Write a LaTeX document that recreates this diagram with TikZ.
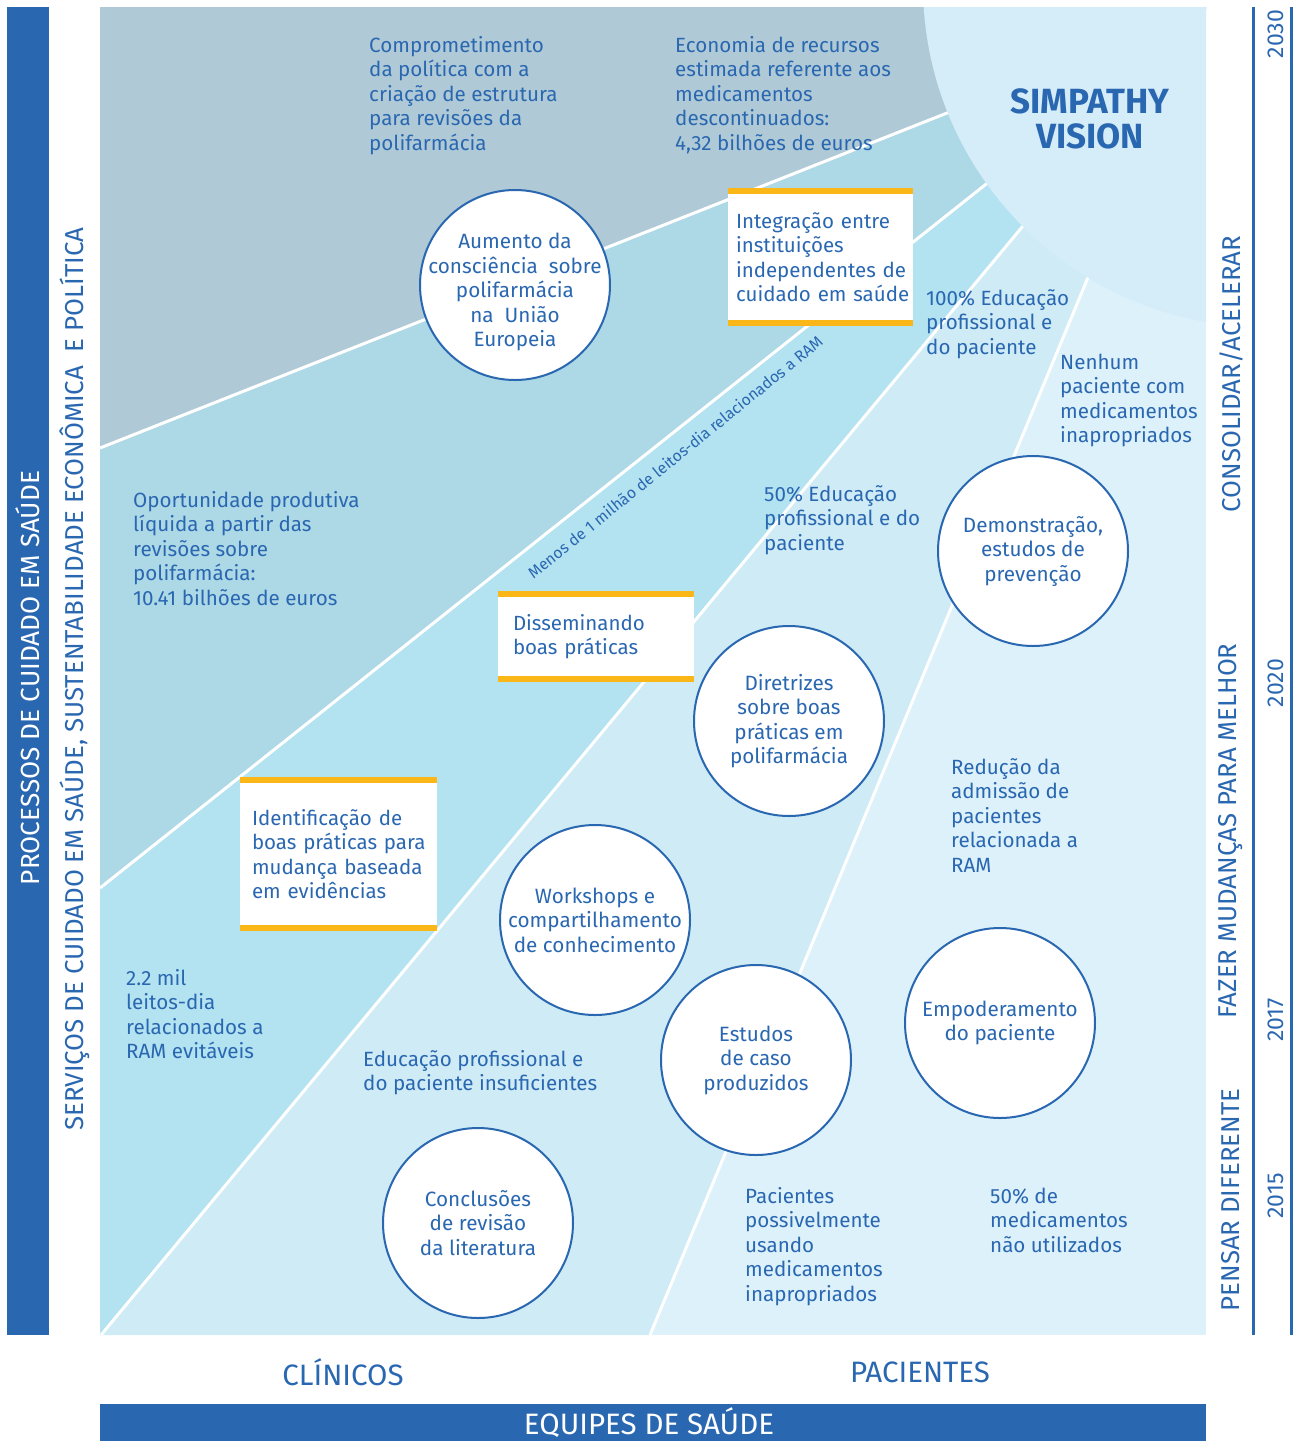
\documentclass[tikz,border=0pt]{standalone}
\usepackage{fontspec}
\setmainfont{Fira Sans}
\definecolor{dblue}{HTML}{2A67B1}
\definecolor{topgrey}{HTML}{AFCAD6}
\definecolor{bandb}{HTML}{ADD8E5}
\definecolor{bandc}{HTML}{B3E2F0}
\definecolor{bandd}{HTML}{CEEBF6}
\definecolor{bande}{HTML}{DDF1FA}
\definecolor{visionc}{HTML}{D5ECF9}
\definecolor{ybarc}{HTML}{FBB617}
\begin{document}
\begin{tikzpicture}[x=1pt,y=-1pt,
  bodytxt/.style={font=\fontsize{20.6}{24.5}\selectfont, text=dblue, align=left, inner sep=0pt, anchor=base west},
  bubble/.style={circle, draw=dblue, line width=2pt, fill=white, minimum size=190pt, inner sep=-30pt, align=center, text=dblue, font=\fontsize{20.7}{24.5}\selectfont},
  ybox/.style={rectangle, fill=white, inner ysep=0pt, align=left, text=dblue, font=\fontsize{20.5}{24.5}\selectfont},
  yline/.style={draw=ybarc, line width=6pt},
  wline/.style={draw=white, line width=3pt},
  vlabel/.style={rotate=90, inner sep=0pt, text=dblue},
]
\useasboundingbox (0,0) rectangle (1294,1441);
% left bar
\fill[dblue] (7,7) rectangle (49,1335);
% main panel
\begin{scope}
\clip (100,7) rectangle (1206,1335);
\fill[bande] (100,7) rectangle (1206,1335);
\fill[bandd] (100,1335) -- (650,1335) -- (1200,7) -- (100,7) -- cycle;
\fill[bandc] (100,1335) -- (101,1335) -- (1205,7) -- (100,7) -- cycle;
\fill[bandb] (100,888) -- (1206,9.4) -- (1206,7) -- (100,7) -- cycle;
\fill[topgrey] (100,448) -- (1206,10.6) -- (1206,7) -- (100,7) -- cycle;
\draw[wline] (100,448) -- (1206,10.6);
\draw[wline] (100,888) -- (1206,9.4);
\draw[wline] (101,1335) -- (1205,7);
\draw[wline] (650,1335) -- (1200,7);
\fill[visionc] (1265,-15) circle[radius=342];
\end{scope}
% right timeline lines
\draw[dblue, line width=3pt] (1253,7) -- (1253,1335);
\draw[dblue, line width=3pt] (1291,7) -- (1291,1335);
% bottom bar
\fill[dblue] (100,1404) rectangle (1206,1441);

% vision title
\node[font=\fontsize{35}{35}\selectfont\bfseries, text=dblue, align=center] (vision) at (1090,119) {SIMPATHY\\VISION};

% vertical labels
\node[vlabel, text=white, font=\fontsize{26.2}{28}\selectfont] (proc) at (28,678) {PROCESSOS DE CUIDADO EM SAÚDE};
\node[vlabel, font=\fontsize{25.9}{28}\selectfont] (serv) at (75,679) {SERVIÇOS DE CUIDADO EM SAÚDE, SUSTENTABILIDADE ECONÔMICA\ \ E POLÍTICA};
\node[vlabel, font=\fontsize{25.8}{28}\selectfont] (consol) at (1231,374) {CONSOLIDAR/ACELERAR};
\node[vlabel, font=\fontsize{25.8}{28}\selectfont] (fazer) at (1231,831) {FAZER MUDANÇAS PARA MELHOR};
\node[vlabel, font=\fontsize{25.8}{28}\selectfont] (pensar) at (1231,1200) {PENSAR DIFERENTE};
\node[vlabel, font=\fontsize{23}{25}\selectfont] (y2030) at (1276,34) {2030};
\node[vlabel, font=\fontsize{23}{25}\selectfont] (y2020) at (1276,683) {2020};
\node[vlabel, font=\fontsize{23}{25}\selectfont] (y2017) at (1276,1020) {2017};
\node[vlabel, font=\fontsize{23}{25}\selectfont] (y2015) at (1276,1196) {2015};

% bottom labels
\node[font=\fontsize{29.5}{31}\selectfont, text=dblue] (clin) at (343,1372) {CLÍNICOS};
\node[font=\fontsize{29.5}{31}\selectfont, text=dblue] (pac) at (920,1372) {PACIENTES};
\node[font=\fontsize{29.5}{31}\selectfont, text=white] (equipes) at (649,1423) {EQUIPES DE SAÚDE};

% text labels (anchored at baseline of last line)
\node[bodytxt] (compr) at (369,150) {Comprometimento\\da política com a\\criação de estrutura\\para revisões da\\polifarmácia};
\node[bodytxt] (econ) at (675,150) {Economia de recursos\\estimada referente aos\\medicamentos\\descontinuados:\\4,32 bilhões de euros};
\node[bodytxt] (oport) at (133,605) {Oportunidade produtiva\\líquida a partir das\\revisões sobre\\polifarmácia:\\10.41 bilhões de euros};
\node[bodytxt] (leitos) at (126,1058.5) {2.2 mil\\leitos-dia\\relacionados a\\RAM evitáveis};
\node[bodytxt] (eduins) at (363,1090.5) {Educação profissional e\\do paciente insuficientes};
\node[bodytxt] (edu100) at (926,354) {100\% Educação\\profissional e\\do paciente};
\node[bodytxt] (nenhum) at (1060,442.5) {Nenhum\\paciente com\\medicamentos\\inapropriados};
\node[bodytxt] (edu50) at (764,550) {50\% Educação\\profissional e do\\paciente};
\node[bodytxt] (reduc) at (951,872) {Redução da\\admissão de\\pacientes\\relacionada a\\RAM};
\node[bodytxt] (pacposs) at (745,1301) {Pacientes\\possivelmente\\usando\\medicamentos\\inapropriados};
\node[bodytxt] (med50) at (990,1252) {50\% de\\medicamentos\\não utilizados};
\node[font=\fontsize{15.8}{17}\selectfont, text=dblue, rotate=39, inner sep=0pt] (menos) at (675,457) {Menos de 1 milhão de leitos-dia relacionados a RAM};

% bubbles
\node[bubble] (aumento) at (515,285) {\rule{0pt}{30pt}Aumento da\\consciência\ \ sobre\\polifarmácia\\na\ \ União\\Europeia};
\node[bubble] (demo) at (1033,551) {Demonstração,\\estudos de\\prevenção};
\node[bubble] (diret) at (789,721) {Diretrizes\\sobre boas\\práticas em\\polifarmácia};
\node[bubble] (work) at (595,920) {Workshops e\\compartilhamento\\de conhecimento};
\node[bubble] (estud) at (756,1060) {Estudos\\de caso\\produzidos};
\node[bubble] (empod) at (1000,1023) {Empoderamento\\do paciente};
\node[bubble] (concl) at (478,1223) {Conclusões\\de revisão\\da literatura};

% yellow-barred boxes
\node[ybox, minimum width=185pt, minimum height=138pt, text width=169pt, inner xsep=8pt] (integ) at (820.5,257) {\mbox{Integração entre}\\\mbox{instituições}\\\mbox{independentes de}\\\mbox{cuidado em saúde}};
\node[ybox, minimum width=196pt, minimum height=91pt, text width=166pt, inner xsep=15pt] (dissem) at (596,636.5) {\mbox{Disseminando}\\\mbox{boas práticas}};
\node[ybox, minimum width=197pt, minimum height=154pt, text width=173pt, inner xsep=12pt] (ident) at (338.5,854) {\mbox{Identificação de}\\\mbox{boas práticas para}\\\mbox{mudança baseada}\\\mbox{em evidências}};
\foreach \b in {integ,dissem,ident}{
  \draw[yline] ([yshift=-3pt]\b.north west) -- ([yshift=-3pt]\b.north east);
  \draw[yline] ([yshift=3pt]\b.south west) -- ([yshift=3pt]\b.south east);
}
\end{tikzpicture}
\end{document}
